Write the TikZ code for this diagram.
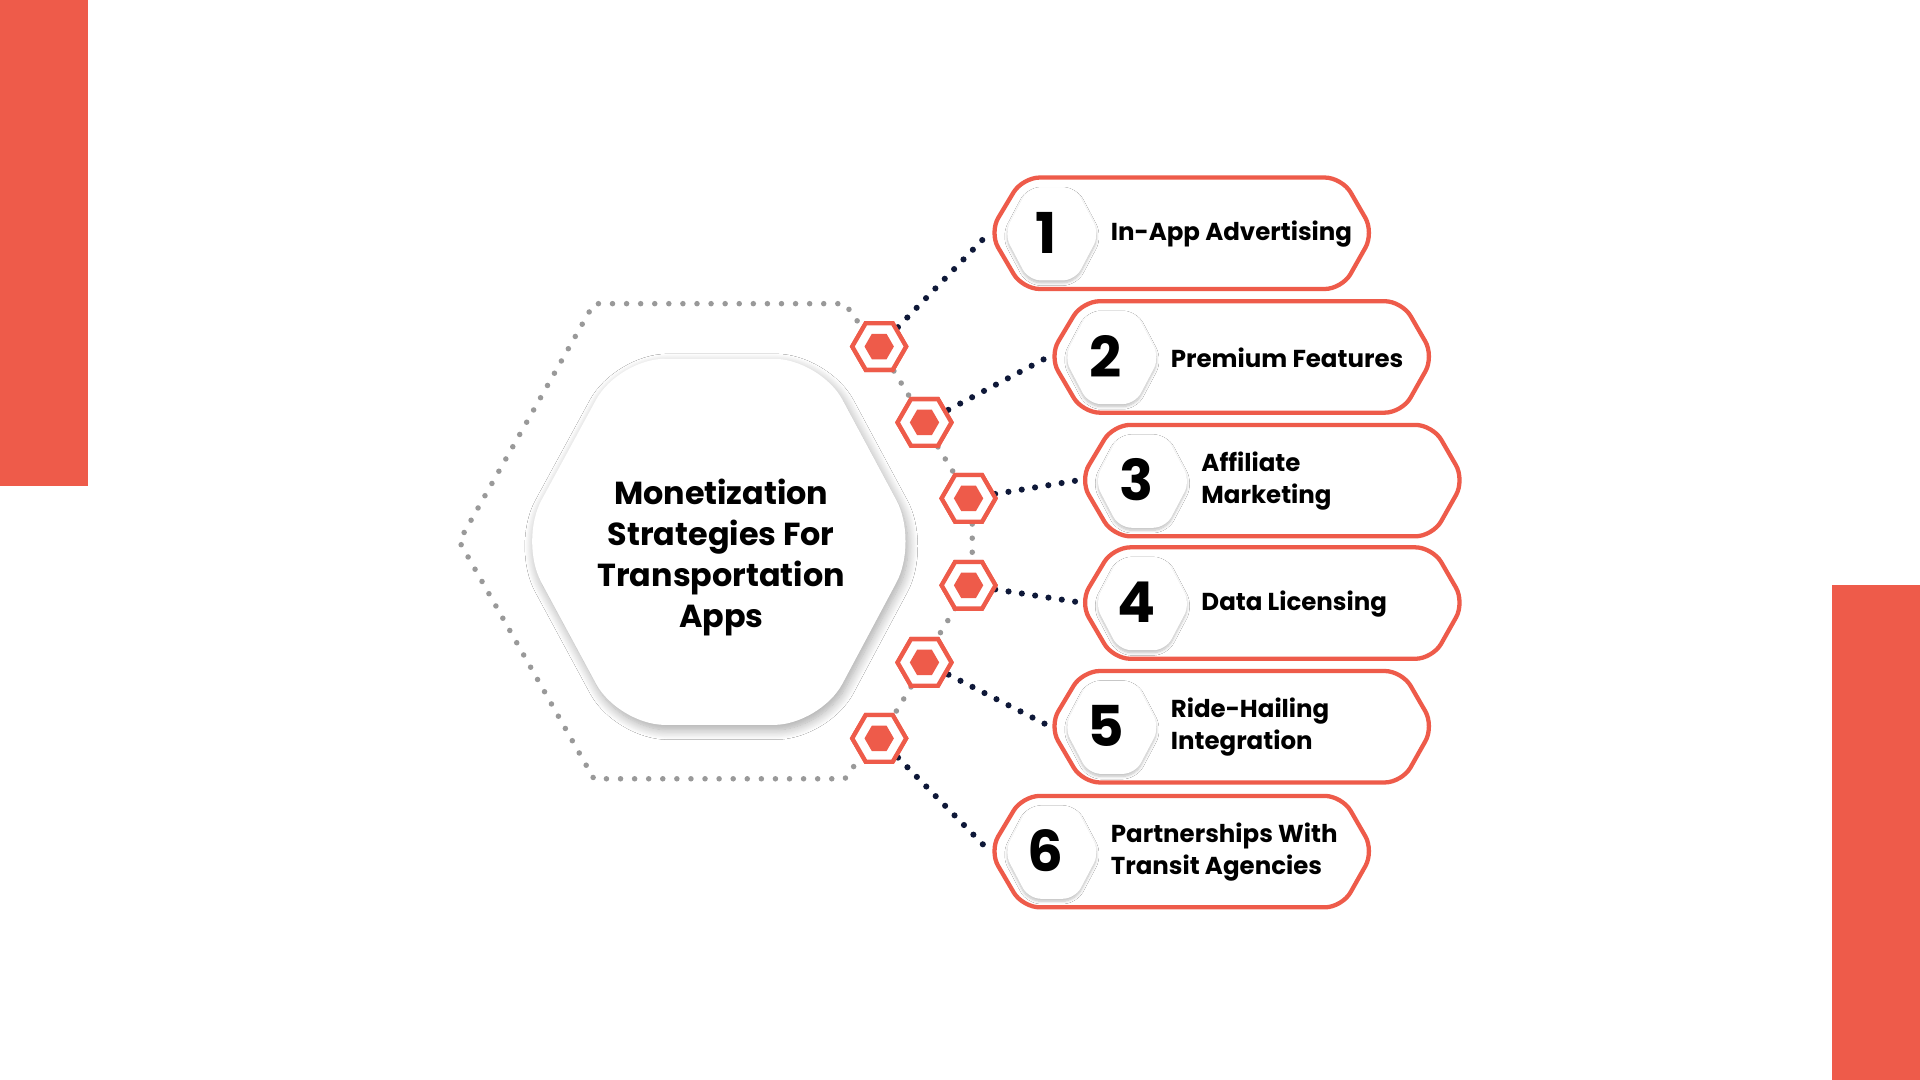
\documentclass[tikz,border=0pt]{standalone}
\usepackage{fontspec}
\setmainfont{Poppins}
\usetikzlibrary{shapes.geometric,shadows.blur}
\definecolor{acc}{HTML}{EE5B4A}
\definecolor{navy}{HTML}{0E1838}
\tikzset{
 pillline/.style={draw=acc,line width=3.5pt,fill=white,rounded corners=14pt},
 numhex/.style={fill=white,rounded corners=10pt,blur shadow={shadow blur steps=8,shadow xshift=0pt,shadow yshift=-2pt,shadow opacity=25}},
 smallhex/.style={regular polygon,regular polygon sides=6,minimum size=44pt,draw=acc,line width=3.5pt,fill=white,inner sep=0pt},
 innerhex/.style={regular polygon,regular polygon sides=6,minimum size=24pt,fill=acc,inner sep=0pt},
 navydots/.style={navy,line width=5pt,line cap=round,dash pattern=on 0pt off 11pt},
 graydots/.style={gray!80,line width=4.5pt,line cap=round,dash pattern=on 0pt off 11.5pt},
 lbl/.style={anchor=west,align=left,font=\fontsize{20}{26}\selectfont\bfseries,inner sep=0pt},
 num/.style={font=\fontsize{46}{46}\selectfont\bfseries},
}
\newcommand{\mypill}[5]{%
 \path[pillline] (#2,#3+45) -- (#2+27,#3) -- (#2+288,#3) -- (#2+314,#3+45) -- (#2+288,#3+91) -- (#2+27,#3+91) -- cycle;
 \fill[numhex] (#2+12,#3+46) -- (#2+32,#3+8) -- (#2+70,#3+8) -- (#2+90,#3+46) -- (#2+70,#3+84) -- (#2+32,#3+84) -- cycle;
 \node[num] (n#1) at (#2+46,#3+45) {#4};
 \node[lbl] (t#1) at (#2+99,#3+46) {#5};
 \coordinate (p#1) at (#2,#3+45);
}
\begin{document}
\begin{tikzpicture}[x=1pt,y=-1pt]
\useasboundingbox (0,0) rectangle (1568,882);
\fill[white] (0,0) rectangle (1568,882);
\fill[acc] (0,0) rectangle (72,397);
\fill[acc] (1496,478) rectangle (1568,882);
% dotted outline
\draw[graydots] (700,262) -- (690,248) -- (485,248) -- (375,442) -- (485,636) -- (690,636) -- (700,622);
\draw[graydots] (730,303) -- (744,326);
\draw[graydots] (766,365) -- (780,388);
\draw[graydots] (794,428) -- (794,458);
\draw[graydots] (780,497) -- (766,520);
\draw[graydots] (744,561) -- (730,584);
% central hexagon
\fill[white,rounded corners=38pt,blur shadow={shadow blur steps=12,shadow xshift=2pt,shadow yshift=-4pt,shadow opacity=35,shadow blur radius=8pt}]
 (424,442) -- (505,293) -- (670,293) -- (750,442) -- (670,592) -- (505,592) -- cycle;
\node[align=center,font=\fontsize{26}{33.5}\selectfont\bfseries] (title) at (589,455) {Monetization\\Strategies For\\Transportation\\Apps};
% pills
\mypill{1}{808}{145}{1}{In-App Advertising}
\mypill{2}{857}{246}{2}{Premium Features}
\mypill{3}{882}{347}{3}{Affiliate\\Marketing}
\mypill{4}{882}{447}{4}{Data Licensing}
\mypill{5}{857}{548}{5}{Ride-Hailing\\Integration}
\mypill{6}{808}{650}{6}{Partnerships With\\Transit Agencies}
% small hexes
\foreach \i/\x/\y in {1/718/283,2/755/345,3/791/407,4/791/478,5/755/541,6/718/603}{
 \node[smallhex] (h\i) at (\x,\y) {};
 \node[innerhex] at (h\i) {};
}
\foreach \i in {1,...,6}{\draw[navydots] (h\i) ++(0,0) (h\i.center) -- (p\i);}
\foreach \i in {1,...,6}{\node[smallhex] at (h\i) {}; \node[innerhex] at (h\i) {};}
\end{tikzpicture}
\end{document}
